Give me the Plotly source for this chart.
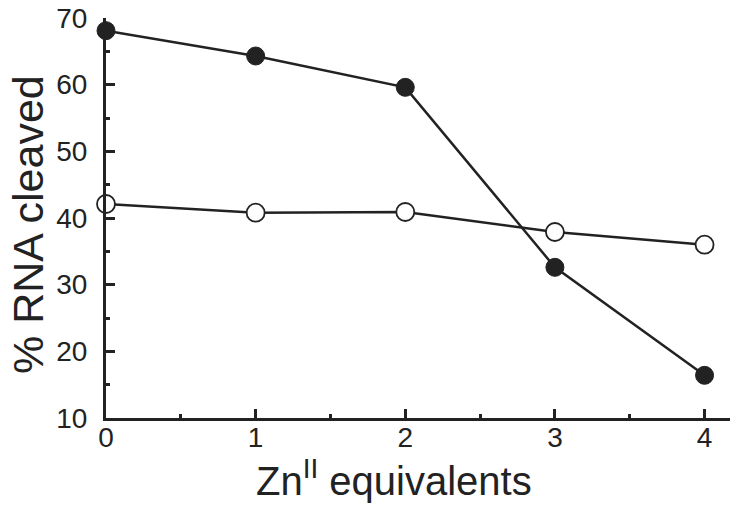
import plotly.graph_objects as go

# Zn(II) equivalents vs % RNA cleaved
zn_equiv = [0, 1, 2, 3, 4]
filled_series = [68.1, 64.3, 59.6, 32.6, 16.4]
open_series = [42.1, 40.8, 40.9, 37.9, 36.0]

ink = "#222222"
font_family = "Liberation Sans, Arial, sans-serif"

fig = go.Figure()

fig.add_trace(go.Scatter(
    x=zn_equiv, y=open_series, mode="lines+markers",
    line=dict(color=ink, width=2.5),
    marker=dict(symbol="circle", size=18, color="white", line=dict(color=ink, width=1.8)),
    cliponaxis=False, showlegend=False,
))
fig.add_trace(go.Scatter(
    x=zn_equiv, y=filled_series, mode="lines+markers",
    line=dict(color=ink, width=2.5),
    marker=dict(symbol="circle", size=18, color=ink, line=dict(color=ink, width=1)),
    cliponaxis=False, showlegend=False,
))

axis_common = dict(
    showline=True, linecolor=ink, linewidth=3,
    ticks="inside", ticklen=9, tickwidth=2.5, tickcolor=ink,
    showgrid=False, zeroline=False, automargin=False,
    ticklabeloverflow="allow",
    tickfont=dict(family=font_family, size=28, color=ink),
)

fig.update_layout(
    width=738, height=511,
    margin=dict(l=106, r=8, t=18, b=93),
    paper_bgcolor="white", plot_bgcolor="white",
    xaxis=dict(
        range=[0, 4.17], tick0=0, dtick=1,
        minor=dict(ticks="inside", ticklen=4, tickwidth=2.5, tickcolor=ink, dtick=0.5),
        ticklabelstandoff=-8,
        **axis_common,
    ),
    yaxis=dict(
        range=[10, 70], tick0=10, dtick=10,
        minor=dict(ticks="inside", ticklen=4, tickwidth=2.5, tickcolor=ink, dtick=5),
        ticklabelstandoff=10,
        **axis_common,
    ),
)

# axis titles as annotations, since the original has them off-centre
fig.add_annotation(
    text="Zn<sup>II</sup> equivalents", xref="paper", yref="paper",
    x=0.4615, y=0, xanchor="center", yanchor="top", yshift=-33,
    showarrow=False, font=dict(family=font_family, size=40, color=ink),
)
fig.add_annotation(
    text="% RNA cleaved", xref="paper", yref="paper", textangle=-90,
    x=0, y=0.4825, xanchor="center", yanchor="middle", xshift=-78,
    showarrow=False, font=dict(family=font_family, size=43, color=ink),
)

# drop the default page margin so the figure fills the window
fig.write_html("out.html", config={"displayModeBar": False},
               post_script="document.body.style.margin='0';")
